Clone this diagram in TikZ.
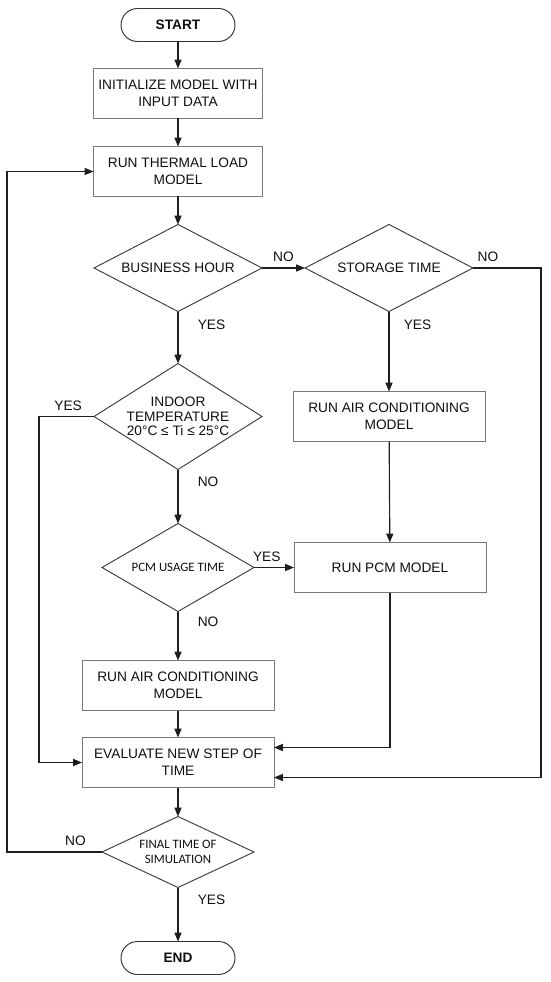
\documentclass[tikz,border=0pt]{standalone}
\usepackage{fontspec}
\setmainfont{Liberation Sans}
\newfontfamily\calibfont{Carlito}
\usepackage{tikz}
\usetikzlibrary{positioning, arrows.meta, shapes.geometric}
\definecolor{boxgray}{RGB}{120,120,120}
\definecolor{linedark}{RGB}{30,30,30}
\definecolor{txtdark}{RGB}{15,15,15}

\begin{document}
\begin{tikzpicture}[
      every node/.style={font=\fontsize{7.8}{9.5}\selectfont, text=txtdark, outer sep=0pt},
      term/.style={draw=linedark!90, line width=0.55pt, rounded corners=0.33cm, minimum width=2.28cm, minimum height=0.66cm, font=\fontsize{7.8}{9.5}\selectfont\bfseries},
      proc/.style={draw=boxgray, line width=0.55pt, minimum width=3.38cm, minimum height=1.0cm, align=center, inner sep=1pt},
      wproc/.style={proc, minimum width=3.84cm},
      decide/.style={draw=linedark!85, line width=0.55pt, diamond, inner sep=0pt, align=center},
      lbl/.style={inner sep=1pt},
      arr/.style={-{Triangle[length=5pt, width=4pt]}, draw=linedark, line width=0.65pt},
  ]
    \useasboundingbox (0,0) rectangle (11,-19.64);

    \node[term] (start) at (3.56,-0.5) {START};
    \node[proc, below=0.54cm of start] (init) {INITIALIZE MODEL WITH\\INPUT DATA};
    \node[proc, below=0.56cm of init] (thermal) {RUN THERMAL LOAD\\MODEL};

    \node[decide, minimum width=3.36cm, minimum height=1.74cm, shape aspect=1.93, below=0.56cm of thermal] (bizhour) {BUSINESS HOUR};
    \node[decide, minimum width=3.36cm, minimum height=1.74cm, shape aspect=1.93, right=0.86cm of bizhour] (storage) {STORAGE TIME};
    \node[decide, minimum width=3.36cm, minimum height=2.12cm, shape aspect=1.585, below=1.04cm of bizhour, font=\fontsize{7.8}{8.3}\selectfont] (indoor) {INDOOR\\TEMPERATURE\\20°C ≤ Ti ≤ 25°C};
    \node[wproc, below=1.6cm of storage] (acright) {RUN AIR CONDITIONING\\MODEL};

    \node[decide, minimum width=3.04cm, minimum height=1.76cm, shape aspect=1.73, below=1.08cm of indoor, font=\calibfont\fontsize{7.3}{8.5}\selectfont] (pcmuse) {PCM USAGE TIME};
    \node[wproc, right=0.8cm of pcmuse] (pcmmodel) {RUN PCM MODEL};
    \node[wproc, below=0.98cm of pcmuse] (acleft) {RUN AIR CONDITIONING\\MODEL};
    \node[wproc, below=0.54cm of acleft] (evalstep) {EVALUATE NEW STEP OF\\TIME};

    \node[decide, minimum width=3.04cm, minimum height=1.42cm, shape aspect=2.14, below=0.58cm of evalstep, font=\calibfont\fontsize{7.3}{8.5}\selectfont] (finaltime) {FINAL TIME OF\\SIMULATION};
    \node[term, below=1.08cm of finaltime] (stop) {END};

    \draw[arr] (start) -- (init);
    \draw[arr] (init) -- (thermal);
    \draw[arr] (thermal) -- (bizhour);
    \draw[arr] (bizhour) -- node[lbl, above=2.5pt] {NO} (storage);
    \draw[arr] (bizhour) -- node[lbl, pos=0.25, right=0.36cm] {YES} (indoor);
    \draw[arr] (storage) -- node[lbl, pos=0.16, right=0.26cm] {YES} (acright);
    \draw[arr] (acright) -- (pcmmodel);
    \draw[arr] (storage.east) -- node[lbl, pos=0.22, above=2.5pt] {NO} ++(1.36,0) |- ([yshift=-0.3cm]evalstep.east);
    \draw[arr] (pcmmodel) |- ([yshift=0.3cm]evalstep.east);

    \draw[arr] (indoor.west) -- node[lbl, pos=0.47, above=2.5pt] {YES} ++(-1.1,0) |- (evalstep.west);
    \draw[arr] (indoor) -- node[lbl, pos=0.22, right=0.36cm] {NO} (pcmuse);
    \draw[arr] (pcmuse) -- node[lbl, pos=0.32, above=2.5pt] {YES} (pcmmodel);
    \draw[arr] (pcmuse) -- node[lbl, pos=0.2, right=0.36cm] {NO} (acleft);
    \draw[arr] (acleft) -- (evalstep);
    \draw[arr] (evalstep) -- (finaltime);
    \draw[arr] (finaltime.west) -- node[lbl, pos=0.28, above=2.5pt] {NO} ++(-1.9,0) |- (thermal.west);
    \draw[arr] (finaltime) -- node[lbl, pos=0.22, right=0.36cm] {YES} (stop);
  \end{tikzpicture}
\end{document}
